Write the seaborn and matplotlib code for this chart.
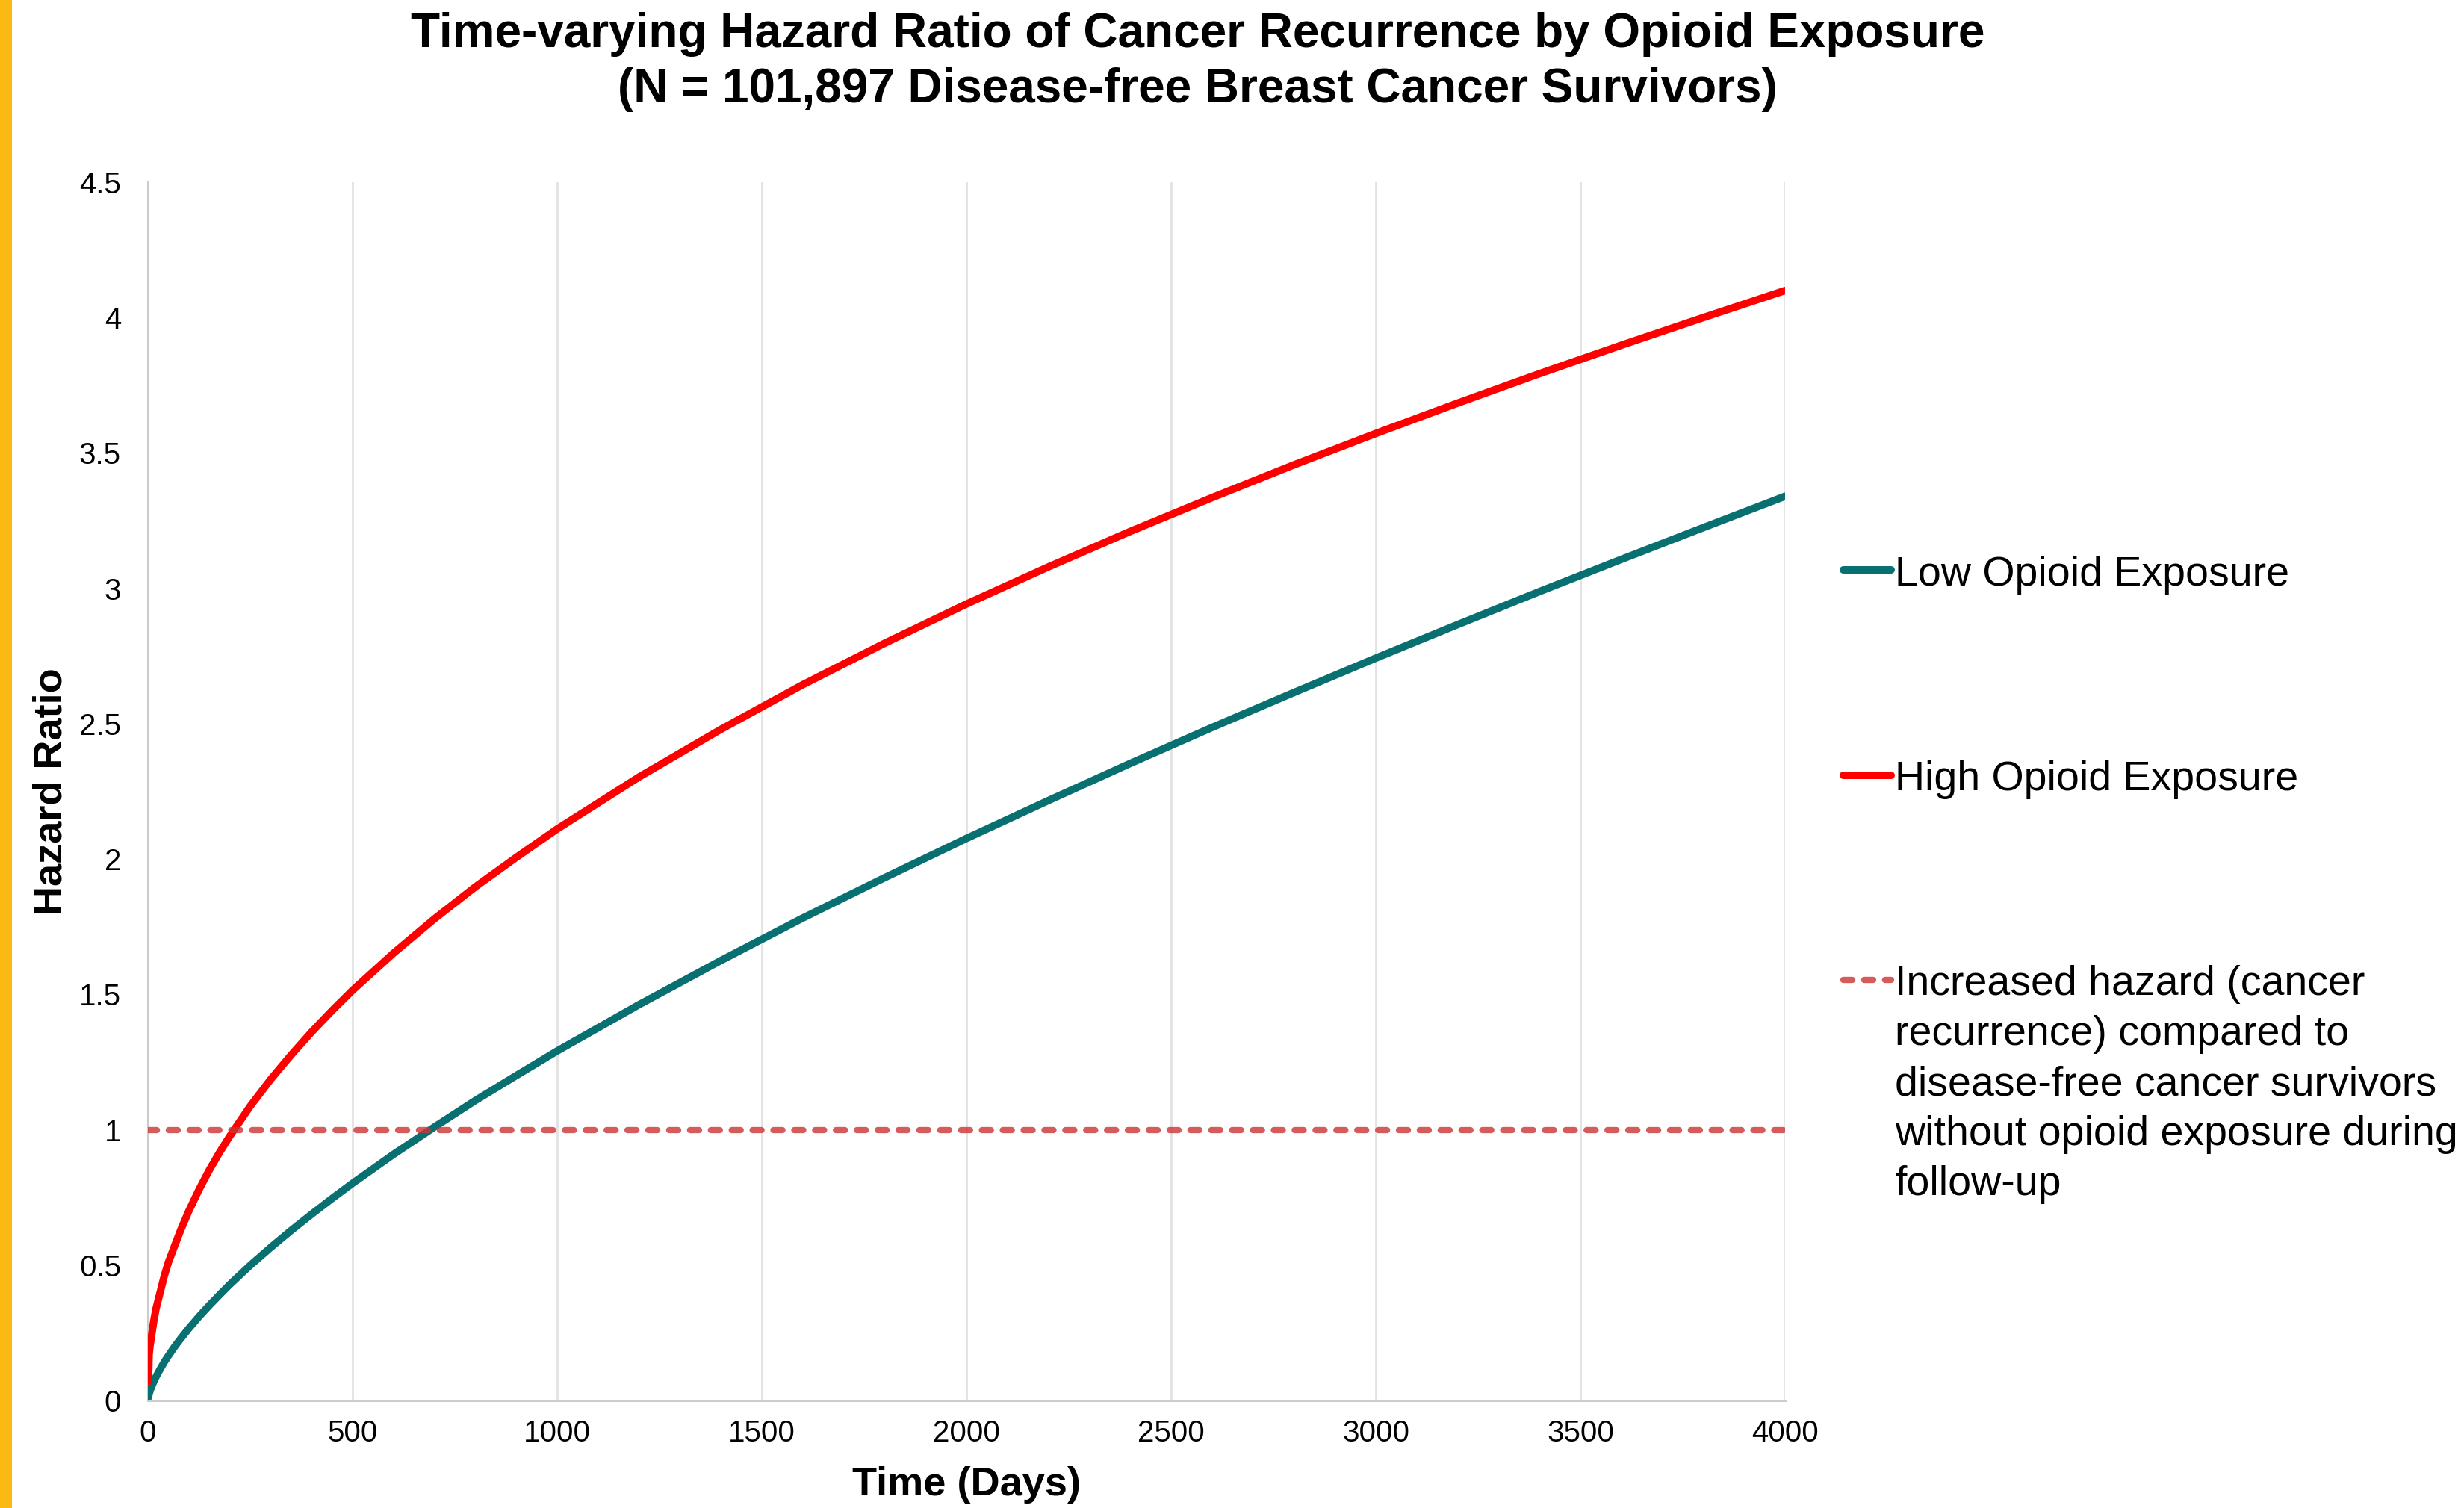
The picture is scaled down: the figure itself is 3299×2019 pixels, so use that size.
import numpy as np
import pandas as pd
import matplotlib
matplotlib.use("Agg")
import matplotlib.pyplot as plt
from matplotlib.patches import Rectangle
import seaborn as sns

# ---- data ----
days = [1, 2, 3, 5, 7, 10, 15, 20, 30, 40, 50, 65, 80, 100, 125, 150, 175, 200,
        250, 300, 350, 400, 450, 500, 600, 700, 800, 900, 1000, 1200, 1400,
        1600, 1800, 2000, 2200, 2400, 2600, 2800, 3000, 3200, 3400, 3600, 3800, 4000]
low_hr = [0.011, 0.018, 0.024, 0.034, 0.043, 0.055, 0.072, 0.088, 0.116, 0.142,
          0.165, 0.198, 0.228, 0.266, 0.310, 0.351, 0.390, 0.428, 0.499, 0.565,
          0.628, 0.688, 0.746, 0.802, 0.909, 1.010, 1.108, 1.200, 1.291, 1.462,
          1.625, 1.782, 1.931, 2.076, 2.216, 2.353, 2.486, 2.615, 2.742, 2.866,
          2.988, 3.107, 3.224, 3.34]
high_hr = [0.07, 0.11, 0.17, 0.20, 0.22, 0.25, 0.30, 0.34, 0.40, 0.46, 0.51,
           0.570, 0.629, 0.700, 0.779, 0.851, 0.916, 0.976, 1.087, 1.186, 1.276,
           1.361, 1.440, 1.515, 1.652, 1.779, 1.897, 2.006, 2.111, 2.303, 2.479,
           2.644, 2.797, 2.942, 3.079, 3.210, 3.335, 3.456, 3.572, 3.684, 3.793,
           3.898, 4.000, 4.10]
reference_hr = 1.0
x_ticks = [0, 500, 1000, 1500, 2000, 2500, 3000, 3500, 4000]
y_ticks = [0, 0.5, 1, 1.5, 2, 2.5, 3, 3.5, 4, 4.5]
y_tick_labels = ["0", "0.5", "1", "1.5", "2", "2.5", "3", "3.5", "4", "4.5"]
series_names = ["Low Opioid Exposure", "High Opioid Exposure"]
ref_label = ("Increased hazard (cancer\nrecurrence) compared to\n"
             "disease-free cancer survivors\nwithout opioid exposure during\nfollow-up")
title = ("Time-varying Hazard Ratio of Cancer Recurrence by Opioid Exposure\n"
         "(N = 101,897 Disease-free Breast Cancer Survivors)")

TEAL = "#087070"
RED = "#ff0000"
DASH = "#cc3333"

sns.set_theme(style="white")
plt.rcParams["font.family"] = ["Liberation Sans", "DejaVu Sans"]
plt.rcParams["text.color"] = "black"
plt.rcParams["axes.labelcolor"] = "black"
plt.rcParams["xtick.color"] = "black"
plt.rcParams["ytick.color"] = "black"

W, H, DPI = 3299, 2019, 200
fig = plt.figure(figsize=(W / DPI, H / DPI), dpi=DPI)
ax = fig.add_axes([198 / W, (H - 1875) / H, (2390 - 198) / W, (1875 - 244) / H])

df_low = pd.DataFrame({"Time": days, "HR": low_hr})
df_high = pd.DataFrame({"Time": days, "HR": high_hr})

sns.lineplot(data=df_low, x="Time", y="HR", color=TEAL, linewidth=3.6,
             label=series_names[0], ax=ax, zorder=3, estimator=None, sort=False)
sns.lineplot(data=df_high, x="Time", y="HR", color=RED, linewidth=3.6,
             label=series_names[1], ax=ax, zorder=3, estimator=None, sort=False)
ax.axhline(reference_hr, color=DASH, alpha=0.8, linewidth=3.0,
           dashes=(1.45, 1.9), dash_capstyle="round", label=ref_label, zorder=4)
for ln in ax.get_lines()[:2]:
    ln.set_solid_capstyle("round")
    ln.set_solid_joinstyle("round")

ax.set_xlim(0, 4000)
ax.set_ylim(0, 4.5)
ax.set_xticks(x_ticks)
ax.set_xticklabels([str(t) for t in x_ticks])
ax.set_yticks(y_ticks)
ax.set_yticklabels(y_tick_labels)
ax.tick_params(axis="both", length=0, labelsize=14.5, colors="black")
ax.tick_params(axis="y", pad=13)
ax.tick_params(axis="x", pad=9)

ax.grid(False)
ax.xaxis.grid(True, color="#e2e2e2", linewidth=1.0)
for s in ["top", "right"]:
    ax.spines[s].set_visible(False)
for s in ["left", "bottom"]:
    ax.spines[s].set_color("#cccccc")
    ax.spines[s].set_linewidth(1.1)

ax.set_xlabel("Time (Days)", fontsize=19.5, fontweight="bold", color="black")
ax.set_ylabel("Hazard Ratio", fontsize=19.5, fontweight="bold", color="black")
ax.xaxis.set_label_coords((1294 - 198) / (2390 - 198), -(1988 - 1875) / (1875 - 244))
ax.xaxis.label.set_va("center")
ax.yaxis.set_label_coords(-(198 - 69) / (2390 - 198), 0.5)
ax.yaxis.label.set_va("center")

fig.text(0.486, 1 - 83 / H, title, ha="center", va="center", fontsize=23,
         fontweight="bold", linespacing=1.31, color="black")

handles, labels = ax.get_legend_handles_labels()
leg = ax.legend(handles, labels, loc="upper left",
                bbox_to_anchor=(2468 / W, 1 - 744 / H), bbox_transform=fig.transFigure,
                frameon=False, fontsize=20, borderpad=0, borderaxespad=0,
                handlelength=1.15, handletextpad=0.1, labelspacing=4.0)
for t in leg.get_texts():
    t.set_linespacing(1.37)
    t.set_color("black")
try:
    for col in leg._legend_handle_box.get_children():
        for row in col.get_children():
            row.align = "top"
except Exception:
    pass

fig.patches.append(Rectangle((0, 0), 16 / W, 1, transform=fig.transFigure,
                             facecolor="#FDB913", edgecolor="none", zorder=10))

fig.savefig("out.png", dpi=DPI, facecolor="white")
